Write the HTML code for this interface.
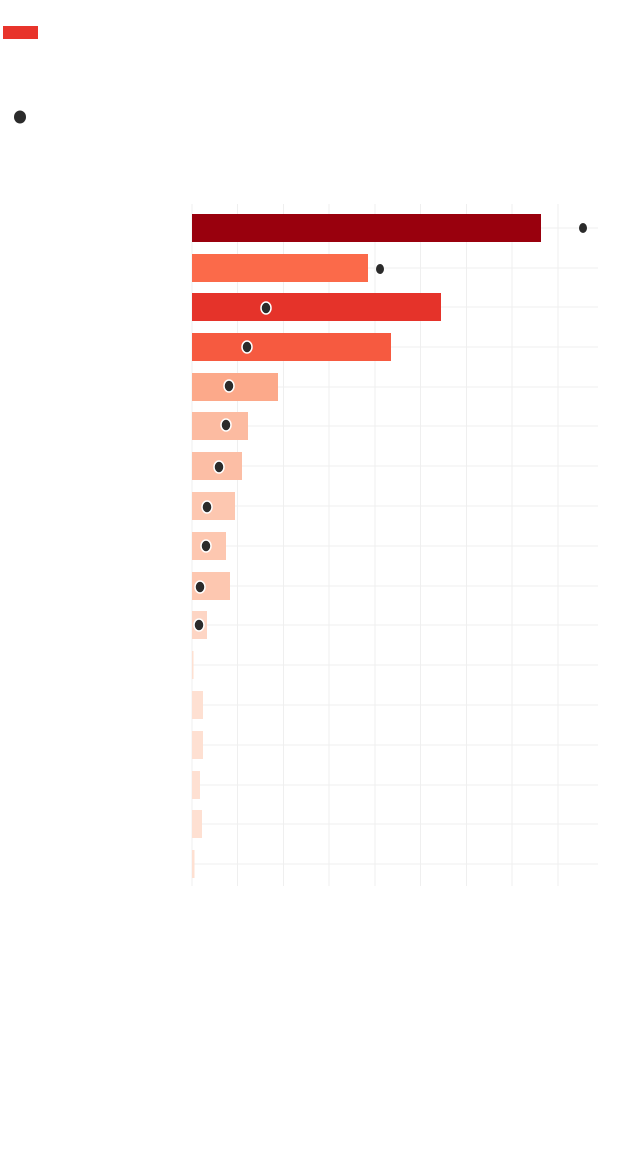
<!DOCTYPE html>
<html><head><meta charset="utf-8"><style>html,body{margin:0;padding:0;background:#fff}svg{display:block}</style></head>
<body>
<svg width="640" height="1174" viewBox="0 0 640 1174" xmlns="http://www.w3.org/2000/svg">
<rect x="3" y="26" width="35" height="13" fill="#e8342b"/>
<ellipse cx="20" cy="117" rx="6" ry="6.5" fill="#2b2b2b"/>
<g stroke="#efefef" stroke-width="1">
<line x1="192" y1="204" x2="192" y2="886"/><line x1="237.5" y1="204" x2="237.5" y2="886"/>
<line x1="283.5" y1="204" x2="283.5" y2="886"/><line x1="329" y1="204" x2="329" y2="886"/>
<line x1="375" y1="204" x2="375" y2="886"/><line x1="420.5" y1="204" x2="420.5" y2="886"/>
<line x1="466.5" y1="204" x2="466.5" y2="886"/><line x1="512" y1="204" x2="512" y2="886"/>
<line x1="558" y1="204" x2="558" y2="886"/>
<line x1="192" y1="228" x2="598" y2="228"/><line x1="192" y1="268" x2="598" y2="268"/>
<line x1="192" y1="307" x2="598" y2="307"/><line x1="192" y1="347" x2="598" y2="347"/>
<line x1="192" y1="387" x2="598" y2="387"/><line x1="192" y1="426" x2="598" y2="426"/>
<line x1="192" y1="466" x2="598" y2="466"/><line x1="192" y1="506" x2="598" y2="506"/>
<line x1="192" y1="546" x2="598" y2="546"/><line x1="192" y1="586" x2="598" y2="586"/>
<line x1="192" y1="625" x2="598" y2="625"/><line x1="192" y1="665" x2="598" y2="665"/>
<line x1="192" y1="705" x2="598" y2="705"/><line x1="192" y1="745" x2="598" y2="745"/>
<line x1="192" y1="785" x2="598" y2="785"/><line x1="192" y1="824" x2="598" y2="824"/>
<line x1="192" y1="864" x2="598" y2="864"/>
</g>
<g>
<rect x="192" y="214" width="349" height="28" fill="#99000d"/>
<rect x="192" y="254" width="176" height="28" fill="#fb6a4a"/>
<rect x="192" y="293" width="249" height="28" fill="#e5332a"/>
<rect x="192" y="333" width="199" height="28" fill="#f65a40"/>
<rect x="192" y="373" width="86" height="28" fill="#fca98a"/>
<rect x="192" y="412" width="56" height="28" fill="#fcbba1"/>
<rect x="192" y="452" width="50" height="28" fill="#fcbea5"/>
<rect x="192" y="492" width="43" height="28" fill="#fdc7b0"/>
<rect x="192" y="532" width="34" height="28" fill="#fdc7b0"/>
<rect x="192" y="572" width="38" height="28" fill="#fdc7b0"/>
<rect x="192" y="611" width="15" height="28" fill="#fdd5c4"/>
<rect x="192" y="651" width="1.5" height="28" fill="#fee0d2"/>
<rect x="192" y="691" width="11" height="28" fill="#fee0d2"/>
<rect x="192" y="731" width="11" height="28" fill="#fee0d2"/>
<rect x="192" y="771" width="8" height="28" fill="#fee0d2"/>
<rect x="192" y="810" width="10" height="28" fill="#fee0d2"/>
<rect x="192" y="850" width="2.5" height="28" fill="#fee0d2"/>
</g>
<g fill="#2b2b2b">
<ellipse cx="583" cy="228" rx="4" ry="5"/>
<ellipse cx="380" cy="269" rx="4" ry="5"/>
</g>
<g fill="#2b2b2b" stroke="#fff" stroke-width="1.5">
<ellipse cx="266" cy="308" rx="5" ry="6"/>
<ellipse cx="247" cy="347" rx="5" ry="6"/>
<ellipse cx="229" cy="386" rx="5" ry="6"/>
<ellipse cx="226" cy="425" rx="5" ry="6"/>
<ellipse cx="219" cy="467" rx="5" ry="6"/>
<ellipse cx="207" cy="507" rx="5" ry="6"/>
<ellipse cx="206" cy="546" rx="5" ry="6"/>
<ellipse cx="200" cy="587" rx="5" ry="6"/>
<ellipse cx="199" cy="625" rx="5" ry="6"/>
</g>
</svg>
</body></html>
